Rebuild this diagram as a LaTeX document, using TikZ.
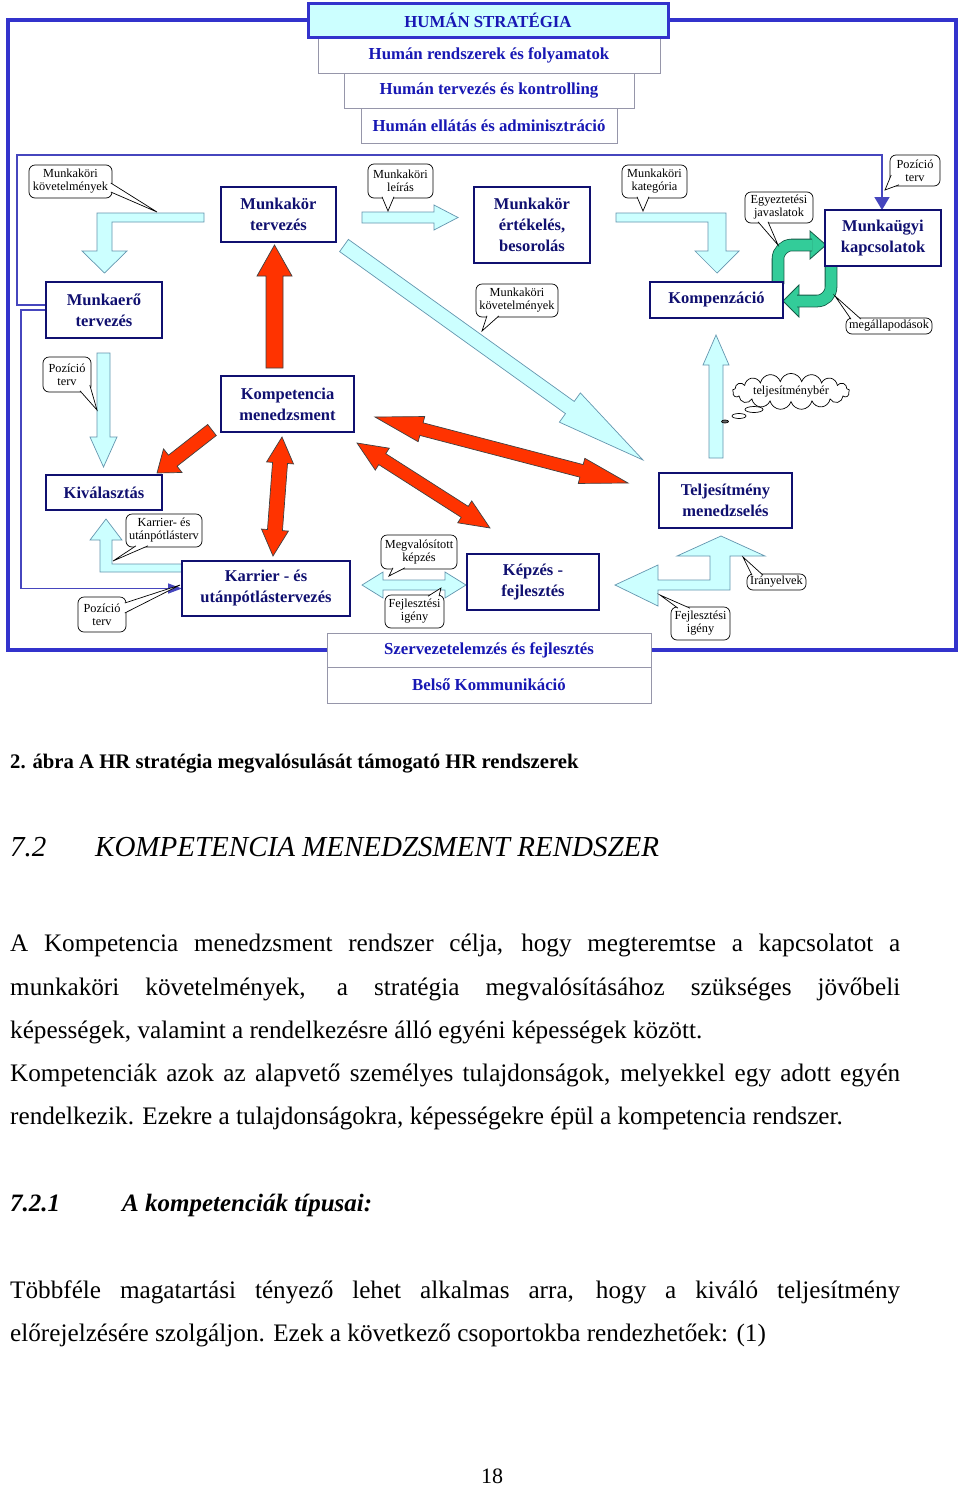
\documentclass[tikz,border=0pt]{standalone}
\usepackage{fontspec}
\setmainfont{Liberation Serif}
\usetikzlibrary{shapes.symbols,arrows.meta}
\definecolor{navy}{RGB}{16,16,112}
\definecolor{frameblue}{RGB}{51,51,204}
\definecolor{lineblue}{RGB}{70,70,190}
\definecolor{txtblue}{RGB}{24,24,180}
\definecolor{cyanfill}{RGB}{204,255,255}
\definecolor{cyanedge}{RGB}{100,150,175}
\definecolor{redfill}{RGB}{255,51,0}
\definecolor{greenfill}{RGB}{51,204,153}
\definecolor{greenedge}{RGB}{20,90,70}
\definecolor{stackedge}{RGB}{150,150,170}

\newcommand\rectnode[7]{%
 \pgfmathsetmacro\mybw{(#5)-(#3)}\pgfmathsetmacro\mybh{(#6)-(#4)}%
 \node[#1, minimum width=\mybw pt, minimum height=\mybh pt] (#2) at ({((#3)+(#5))/2},{((#4)+(#6))/2}) {#7};}
\newcommand\ctail[3]{\fill[white] #1 -- #3 -- #2 -- cycle; \draw[black, line width=0.7pt] #1 -- #3 -- #2;}
\newcommand\sarrow[8]{%
 \pgfmathsetmacro\myang{atan2((#2)-(#4),(#3)-(#1))}%
 \pgfmathsetmacro\mylen{veclen((#3)-(#1),(#4)-(#2))}%
 \pgfmathsetmacro\myhb{\mylen-(#7)}%
 \begin{scope}[shift={(#1,#2)},rotate=\myang]
 \path[#8] (0,#5) -- (\myhb,#5) -- (\myhb,#6) -- (\mylen,0) -- (\myhb,-#6) -- (\myhb,-#5) -- (0,-#5) -- cycle;
 \end{scope}}
\newcommand\darrow[8]{%
 \pgfmathsetmacro\myang{atan2((#2)-(#4),(#3)-(#1))}%
 \pgfmathsetmacro\mylen{veclen((#3)-(#1),(#4)-(#2))}%
 \pgfmathsetmacro\myhb{\mylen-(#7)}%
 \begin{scope}[shift={(#1,#2)},rotate=\myang]
 \path[#8] (0,0) -- (#7,#6) -- (#7,#5) -- (\myhb,#5) -- (\myhb,#6) -- (\mylen,0) -- (\myhb,-#6) -- (\myhb,-#5) -- (#7,-#5) -- (#7,-#6) -- cycle;
 \end{scope}}
\newcommand\mybodyf{\fontsize{25.2}{30}\selectfont}

\tikzset{
 hbox/.style={draw=navy, line width=2.4pt, fill=white, text=navy, align=center, inner sep=0pt,
   font=\fontsize{16.5}{21}\selectfont\bfseries},
 stack/.style={draw=stackedge, line width=0.8pt, fill=white, text=txtblue, inner sep=0pt,
   font=\fontsize{16.8}{20}\selectfont\bfseries},
 topbox/.style={draw=frameblue, line width=3pt, fill=cyanfill, text=txtblue, inner sep=0pt,
   font=\fontsize{16.8}{20}\selectfont\bfseries},
 callout/.style={draw=black, line width=0.7pt, fill=white, rounded corners=6pt, align=center,
   inner sep=0pt, font=\fontsize{12.3}{13}\selectfont},
 cyanarrow/.style={fill=cyanfill, draw=cyanedge, line width=0.7pt, line join=miter},
 redarrow/.style={fill=redfill, draw=black!75, line width=0.7pt, line join=miter},
 greenarrow/.style={fill=greenfill, draw=greenedge, line width=0.8pt, line join=miter},
 greenshaft/.style={draw=greenedge, line width=0.8pt, double=greenfill, double distance=11pt, rounded corners=14pt},
 bline/.style={draw=lineblue, line width=1.6pt},
 pagetext/.style={anchor=base west, inner sep=0pt},
}

\begin{document}
\begin{tikzpicture}[x=1pt,y=-1pt]
\useasboundingbox (0,0) rectangle (960,1486);
\fill[white] (0,0) rectangle (960,1486);

% outer frame
\draw[frameblue, line width=4pt] (8,20) rectangle (956,650);

% inner blue lines
\draw[bline, -{Triangle[length=13pt,width=15pt]}] (46,305) -| (17,155) -| (882,210);
\draw[bline, -{Triangle[length=14pt,width=10pt]}] (46,310) -| (21,588.5) -- (182,588.5);

% cyan arrows
\path[cyanarrow] (204,213) -- (97,213) -- (97,251) -- (82,251) -- (104.5,273) -- (127,251) -- (112,251) -- (112,222) -- (204,222) -- cycle;
\path[cyanarrow] (362,212) -- (434,212) -- (434,205) -- (458,217.5) -- (434,230) -- (434,223) -- (362,223) -- cycle;
\sarrow{344}{245.5}{643}{460}{7.5}{18}{90}{cyanarrow}
\path[cyanarrow] (616,213) -- (726,213) -- (726,251) -- (739,251) -- (717,273) -- (695,251) -- (708,251) -- (708,222) -- (616,222) -- cycle;
\path[cyanarrow] (97,353) -- (110,353) -- (110,437) -- (117,437) -- (103.5,467) -- (90,437) -- (97,437) -- cycle;
\path[cyanarrow] (709,458) -- (709,365) -- (703,365) -- (716,335) -- (729,365) -- (723,365) -- (723,458) -- cycle;
\path[cyanarrow] (188,564) -- (112,564) -- (112,540) -- (122,540) -- (106,519) -- (90,540) -- (100,540) -- (100,572) -- (188,572) -- cycle;
\darrow{362}{585}{466}{585}{5}{13}{21}{cyanarrow}
\path[cyanarrow] (615,585) -- (658,565) -- (658,580) -- (710,580) -- (710,556) -- (677,556) -- (721,536) -- (765,556) -- (730,556) -- (730,590) -- (658,590) -- (658,606) -- cycle;

% red arrows
\sarrow{274.5}{368}{274.5}{245}{8.5}{17.5}{31}{redarrow}
\sarrow{212}{430}{157}{473}{7}{15}{20}{redarrow}
\darrow{282}{437}{273}{556}{7.5}{13.5}{26}{redarrow}
\darrow{375}{417}{628}{483}{6.5}{13}{48}{redarrow}
\darrow{357}{443}{490}{528}{6.5}{13}{30}{redarrow}

% green arrows
\path[greenarrow] (810,231) -- (826,245) -- (810,259) -- cycle;
\draw[greenshaft] (778,284) -- (778,245) -- (812,245);
\path[greenarrow] (799,285) -- (783,301) -- (799,317) -- cycle;
\draw[greenshaft] (831,265) -- (831,301) -- (797,301);

% main boxes
\rectnode{hbox}{B1}{46}{282}{162}{338}{Munkaerő\\tervezés}
\rectnode{hbox}{B2}{221}{187}{336}{242}{Munkakör\\tervezés}
\rectnode{hbox}{B3}{474}{187}{590}{263}{Munkakör\\értékelés,\\besorolás}
\rectnode{hbox}{B4}{825}{210}{941}{266}{Munkaügyi\\kapcsolatok}
\rectnode{hbox}{B5}{650}{282}{783}{318}{Kompenzáció}
\rectnode{hbox}{B6}{221}{376}{354}{432}{Kompetencia\\menedzsment}
\rectnode{hbox}{B7}{46}{475}{162}{510}{Kiválasztás}
\rectnode{hbox}{B8}{659}{473}{792}{528}{Teljesítmény\\menedzselés}
\rectnode{hbox}{B9}{182}{561}{350}{616}{Karrier - és\\utánpótlástervezés}
\rectnode{hbox}{B10}{467}{554}{599}{610}{Képzés -\\fejlesztés}

% stacks
\rectnode{stack}{T2}{318}{37}{660}{73}{Humán rendszerek és folyamatok}
\rectnode{stack}{T3}{344}{73}{634}{108}{Humán tervezés és kontrolling}
\rectnode{stack}{T4}{361}{108}{617}{143}{Humán ellátás és adminisztráció}
\rectnode{topbox}{T1}{308}{3}{668}{37}{HUMÁN STRATÉGIA}
\rectnode{stack}{S1}{327}{633}{651}{667}{Szervezetelemzés és fejlesztés}
\rectnode{stack}{S2}{327}{667}{651}{703}{Belső Kommunikáció}

% callouts
\rectnode{callout}{C1}{29}{165}{112}{198}{Munkaköri\\követelmények}
\ctail{(110.8,183)}{(110.8,192)}{(157,212)}
\rectnode{callout}{C2}{368}{164}{433}{198}{Munkaköri\\leírás}
\ctail{(382,196.8)}{(394,196.8)}{(388,211)}
\rectnode{callout}{C3}{622}{165}{687}{198}{Munkaköri\\kategória}
\ctail{(637,196.8)}{(649,196.8)}{(643,211)}
\rectnode{callout}{C4}{745}{192}{813}{223}{Egyeztetési\\javaslatok}
\ctail{(758,221.8)}{(768,221.8)}{(778,245)}
\rectnode{callout}{C5}{890}{155}{940}{186}{Pozíció\\terv}
\ctail{(891.2,175)}{(899,184.8)}{(885,190)}
\rectnode{callout}{C6}{846}{318}{932}{334}{megállapodások}
\ctail{(851,319.2)}{(861,319.2)}{(835,296)}
\rectnode{callout}{C7}{476}{284}{558}{317}{Munkaköri\\követelmények}
\ctail{(487,315.8)}{(499,315.8)}{(482,331)}
\rectnode{callout}{C8}{43}{357}{91}{392}{Pozíció\\terv}
\ctail{(80,390.8)}{(89.8,385)}{(97,410)}
\rectnode{callout}{C10}{126}{514}{202}{547}{Karrier- és\\utánpótlásterv}
\ctail{(136,545.8)}{(148,545.8)}{(113,561)}
\rectnode{callout}{C11}{78}{597}{126}{632}{Pozíció\\terv}
\ctail{(124.8,603)}{(124.8,613)}{(180,585)}
\rectnode{callout}{C12}{381}{535}{457}{569}{Megvalósított\\képzés}
\ctail{(393,567.8)}{(405,567.8)}{(389,576)}
\rectnode{callout}{C13}{385}{595}{444}{628}{Fejlesztési\\igény}
\ctail{(428,596.2)}{(439,596.2)}{(441,588)}
\rectnode{callout}{C14}{747}{574}{806}{590}{Irányelvek}
\ctail{(752,575.2)}{(763,575.2)}{(743,557)}
\rectnode{callout}{C15}{671}{607}{730}{640}{Fejlesztési\\igény}
\ctail{(678,608.2)}{(690,608.2)}{(660,595)}

% thought cloud
\node[cloud, draw=black, line width=0.7pt, fill=white, cloud puffs=17, aspect=5, minimum width=117pt, minimum height=24pt, inner sep=0pt, font=\fontsize{12.3}{13}\selectfont] (cl) at (791,391.5) {teljesítménybér};
\draw[black, line width=0.7pt, fill=white] (754,409.5) ellipse [x radius=9, y radius=3];
\draw[black, line width=0.7pt, fill=white] (739,416) ellipse [x radius=7, y radius=2.5];
\draw[black, line width=0.7pt, fill=black!60] (725,421.5) ellipse [x radius=3.5, y radius=1.5];

% page text
\node[pagetext, font=\fontsize{20.7}{24}\selectfont\bfseries] (cap) at (10,768) {2. ábra A HR stratégia megvalósulását támogató HR rendszerek};
\node[pagetext, font=\fontsize{29}{32}\selectfont\itshape] (h1) at (10,856) {7.2};
\node[pagetext, font=\fontsize{29}{32}\selectfont\itshape] (h1b) at (95,856) {KOMPETENCIA MENEDZSMENT RENDSZER};
\node[pagetext, font=\mybodyf] (p1) at (10,951) {\makebox[890pt][s]{A Kompetencia menedzsment rendszer célja, hogy megteremtse a kapcsolatot a}};
\node[pagetext, font=\mybodyf] (p2) at (10,995) {\makebox[890pt][s]{munkaköri követelmények, a stratégia megvalósításához szükséges jövőbeli}};
\node[pagetext, font=\mybodyf] (p3) at (10,1038) {képességek, valamint a rendelkezésre álló egyéni képességek között.};
\node[pagetext, font=\mybodyf] (p4) at (10,1081) {\makebox[890pt][s]{Kompetenciák azok az alapvető személyes tulajdonságok, melyekkel egy adott egyén}};
\node[pagetext, font=\mybodyf] (p5) at (10,1124) {rendelkezik. Ezekre a tulajdonságokra, képességekre épül a kompetencia rendszer.};
\node[pagetext, font=\fontsize{25}{28}\selectfont\bfseries\itshape] (h2) at (10,1211) {7.2.1};
\node[pagetext, font=\fontsize{25}{28}\selectfont\bfseries\itshape] (h2b) at (122,1211) {A kompetenciák típusai:};
\node[pagetext, font=\mybodyf] (p6) at (10,1298) {\makebox[890pt][s]{Többféle magatartási tényező lehet alkalmas arra, hogy a kiváló teljesítmény}};
\node[pagetext, font=\mybodyf] (p7) at (10,1341) {előrejelzésére szolgáljon. Ezek a következő csoportokba rendezhetőek: (1)};
\node[anchor=base, inner sep=0pt, font=\fontsize{22}{26}\selectfont] (pg) at (492,1483) {18};
\end{tikzpicture}
\end{document}
